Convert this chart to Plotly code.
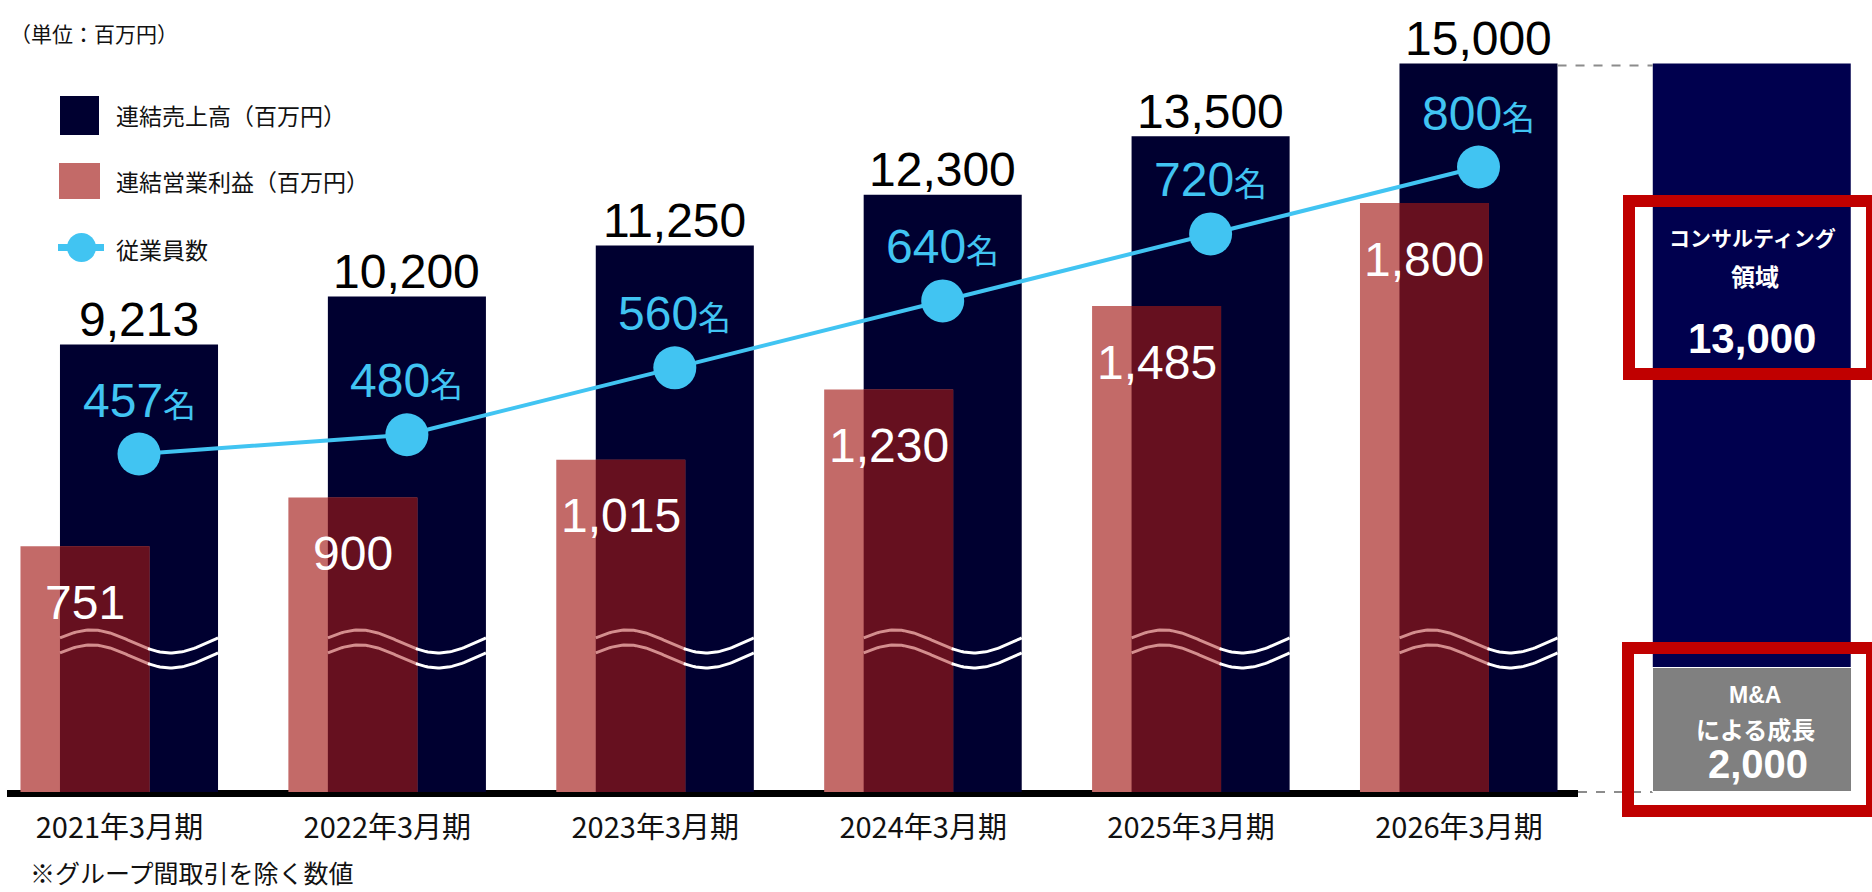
import numpy as np
import plotly.graph_objects as go

# ---------------- data ----------------
categories = ["2021年3月期", "2022年3月期", "2023年3月期", "2024年3月期", "2025年3月期", "2026年3月期"]
sales = [9213, 10200, 11250, 12300, 13500, 15000]          # 連結売上高（百万円）
op_profit = [751, 900, 1015, 1230, 1485, 1800]              # 連結営業利益（百万円）
employees = [457, 480, 560, 640, 720, 800]                  # 従業員数
breakdown_names = ["コンサルティング領域", "M&Aによる成長"]
breakdown_values = [13000, 2000]

# ---------------- style / layout constants ----------------
W, H = 1872, 892
PLOT_BOTTOM = 800            # px of plot-area bottom
NAVY = "#000030"
NAVY_R = "#00004E"
PINK = "#C36A68"
MAROON = "#66101F"
CYAN = "#41C4F2"
GRAY = "#808080"
RED = "#C00000"
NUM_FONT = "Liberation Sans Narrow, Arial Narrow, Liberation Sans, Arial, sans-serif"
JP_FONT = "Noto Sans CJK JP, sans-serif"
BOLD_FONT = "Liberation Sans, Arial, sans-serif"

X0_PX, X_STEP = 139.0, 267.9          # px of first category, px per category
Y_PX = 0.048567                        # px per unit, sales axis
Y2_PX = 0.32722                        # px per unit, profit axis
Y3_PX, Y3_REF_V, Y3_REF_PX = 0.8367, 457, 454

NAVY_W, NAVY_OFF = 0.59, -0.295
PINK_W, PINK_OFF = 0.4815, -0.4424
OVL_W = (PINK_OFF + PINK_W) - NAVY_OFF
RIGHT_X, RIGHT_W = 6.02, 0.739


def px_x(px):
    return px / W


def px_y(py):
    return (PLOT_BOTTOM - py) / PLOT_BOTTOM


idx = np.arange(len(categories))
baseline_px = 792
y_range = [-(PLOT_BOTTOM - baseline_px) / Y_PX, baseline_px / Y_PX]
y2_range = [-(PLOT_BOTTOM - baseline_px) / Y2_PX, baseline_px / Y2_PX]
y3_range = [Y3_REF_V - (PLOT_BOTTOM - Y3_REF_PX) / Y3_PX, Y3_REF_V + Y3_REF_PX / Y3_PX]
x_range = [-X0_PX / X_STEP, (W - X0_PX) / X_STEP]

fig = go.Figure()

# sales bars
fig.add_trace(go.Bar(x=idx, y=sales, width=NAVY_W, offset=NAVY_OFF, marker=dict(color=NAVY, line_width=0),
                     yaxis="y", name="連結売上高（百万円）", hoverinfo="skip"))
# right breakdown bar (total)
fig.add_trace(go.Bar(x=[RIGHT_X], y=[sum(breakdown_values)], width=RIGHT_W, offset=-RIGHT_W / 2,
                     marker=dict(color=NAVY_R, line_width=0), yaxis="y", hoverinfo="skip"))
# profit bars
fig.add_trace(go.Bar(x=idx, y=op_profit, width=PINK_W, offset=PINK_OFF, marker=dict(color=PINK, line_width=0),
                     yaxis="y2", name="連結営業利益（百万円）", hoverinfo="skip"))
# overlap of profit and sales bars
fig.add_trace(go.Bar(x=idx, y=op_profit, width=OVL_W, offset=NAVY_OFF, marker=dict(color=MAROON, line_width=0),
                     yaxis="y2", hoverinfo="skip"))
# employees line
fig.add_trace(go.Scatter(x=idx, y=employees, mode="lines+markers", yaxis="y3",
                         line=dict(color=CYAN, width=4), marker=dict(color=CYAN, size=43),
                         name="従業員数", hoverinfo="skip"))

# wavy "break" marks on sales bars (decoration)
crest_u = (baseline_px - 630) / Y_PX
amp_u = 23 / Y_PX
sep_u = 15 / Y_PX
t = np.linspace(0, 1, 80)
d = amp_u * (1 - np.cos(2 * np.pi * (t - 0.2))) / 2
split = OVL_W / NAVY_W
wx_m, wy_m, wx_n, wy_n = [], [], [], []
for i in idx:
    xs = i + NAVY_OFF + t * NAVY_W
    for off in (0, sep_u):
        ys = crest_u - off - d
        m = t <= split + 0.01
        n = t >= split - 0.01
        wx_m += list(xs[m]) + [None]
        wy_m += list(ys[m]) + [None]
        wx_n += list(xs[n]) + [None]
        wy_n += list(ys[n]) + [None]
fig.add_trace(go.Scatter(x=wx_m, y=wy_m, mode="lines", yaxis="y4", line=dict(color="#D48E8E", width=3),
                         hoverinfo="skip", connectgaps=False))
fig.add_trace(go.Scatter(x=wx_n, y=wy_n, mode="lines", yaxis="y4", line=dict(color="#FFFFFF", width=3),
                         hoverinfo="skip", connectgaps=False))

annotations = []
# sales value labels
for i, v in zip(idx, sales):
    annotations.append(dict(x=i, y=v, xref="x", yref="y", text=f"{v:,}", showarrow=False,
                            xanchor="center", yanchor="middle", yshift=25,
                            font=dict(family=NUM_FONT, size=48, color="#000000")))
# profit value labels
for i, v in zip(idx, op_profit):
    annotations.append(dict(x=i + PINK_OFF + PINK_W / 2, y=v, xref="x", yref="y2", text=f"{v:,}", showarrow=False,
                            xanchor="center", yanchor="middle", yshift=-56,
                            font=dict(family=NUM_FONT, size=48, color="#FFFFFF")))
# employee labels
for i, v in zip(idx, employees):
    annotations.append(dict(x=i, y=v, xref="x", yref="y3",
                            text=f"{v}<span style='font-size:33px'>名</span>", showarrow=False,
                            xanchor="center", yanchor="middle", yshift=54,
                            font=dict(family=NUM_FONT + ", " + JP_FONT, size=48, color=CYAN)))

# gray M&A box (bottom part of right bar)
annotations.append(dict(x=RIGHT_X, y=0, xref="x", yref="y", text=" ", showarrow=False, xanchor="center",
                        yanchor="bottom", yshift=0, width=198, height=123, bgcolor=GRAY, borderpad=0,
                        bordercolor="#FFFFFF", borderwidth=1))


def ptext(px, py, text, size, family=JP_FONT, color="#FFFFFF", bold=True, xanchor="center"):
    return dict(x=px_x(px), y=px_y(py), xref="paper", yref="paper", text=text, showarrow=False,
                xanchor=xanchor, yanchor="middle",
                font=dict(family=family, size=size, color=color, weight="bold" if bold else "normal"))


# right panel texts
cons_name = breakdown_names[0]
ma_name = breakdown_names[1]
annotations += [
    ptext(1752, 237, cons_name[:-2], 21),
    ptext(1755, 275, cons_name[-2:], 24),
    ptext(1752, 338, f"{breakdown_values[0]:,}", 42, family=BOLD_FONT),
    ptext(1755, 695, ma_name[:3], 23, family=BOLD_FONT),
    ptext(1755, 728, ma_name[3:], 24),
    ptext(1758, 764, f"{breakdown_values[1]:,}", 40, family=BOLD_FONT),
]

# unit, legend texts, footnote
annotations += [
    ptext(8, 33, "（単位：百万円）", 21, color="#111111", bold=False, xanchor="left"),
    ptext(114, 115, "連結売上高（百万円）", 23, color="#111111", bold=False, xanchor="left"),
    ptext(114, 181, "連結営業利益（百万円）", 23, color="#111111", bold=False, xanchor="left"),
    ptext(114, 249, "従業員数", 23, color="#111111", bold=False, xanchor="left"),
    ptext(28, 872, "※グループ間取引を除く数値", 25, color="#111111", bold=False, xanchor="left"),
]

shapes = [
    # baseline
    dict(type="line", xref="x", yref="y", x0=(7 - X0_PX) / X_STEP, x1=(1578 - X0_PX) / X_STEP,
         y0=-1.5 / Y_PX, y1=-1.5 / Y_PX, line=dict(color="#000000", width=7), layer="below"),
    # dashed connectors
    dict(type="line", xref="x", yref="y", x0=idx[-1] + NAVY_OFF + NAVY_W, x1=RIGHT_X - RIGHT_W / 2,
         y0=sales[-1] - 40, y1=sales[-1] - 40, line=dict(color="#8C8C8C", width=2, dash="dash"), layer="above"),
    dict(type="line", xref="x", yref="y", x0=(1578 - X0_PX) / X_STEP, x1=RIGHT_X - RIGHT_W / 2,
         y0=0, y1=0, line=dict(color="#8C8C8C", width=2, dash="dash"), layer="above"),
    # red highlight boxes
    dict(type="rect", xref="paper", yref="paper", x0=px_x(1629), x1=px_x(1872), y0=px_y(201), y1=px_y(374),
         line=dict(color=RED, width=12), fillcolor="rgba(0,0,0,0)", layer="above"),
    dict(type="rect", xref="paper", yref="paper", x0=px_x(1628), x1=px_x(1872), y0=px_y(648), y1=px_y(811),
         line=dict(color=RED, width=12), fillcolor="rgba(0,0,0,0)", layer="above"),
    # legend symbols
    dict(type="rect", xref="paper", yref="paper", x0=px_x(60), x1=px_x(99), y0=px_y(96), y1=px_y(135),
         line=dict(width=0), fillcolor=NAVY, layer="above"),
    dict(type="rect", xref="paper", yref="paper", x0=px_x(59), x1=px_x(100), y0=px_y(163), y1=px_y(199),
         line=dict(width=0), fillcolor=PINK, layer="above"),
    dict(type="line", xref="paper", yref="paper", x0=px_x(58), x1=px_x(104), y0=px_y(247.5), y1=px_y(247.5),
         line=dict(color=CYAN, width=7), layer="above"),
    dict(type="circle", xref="paper", yref="paper", x0=px_x(67), x1=px_x(96), y0=px_y(233), y1=px_y(262),
         line=dict(width=0), fillcolor=CYAN, layer="above"),
]

hidden = dict(visible=False, showgrid=False, zeroline=False, fixedrange=True)
fig.update_layout(
    width=W, height=H,
    margin=dict(l=0, r=0, t=0, b=H - PLOT_BOTTOM, pad=0, autoexpand=False),
    paper_bgcolor="#FFFFFF", plot_bgcolor="#FFFFFF",
    barmode="overlay", showlegend=False, hovermode=False,
    xaxis=dict(range=x_range, tickvals=list(idx - 0.073), ticktext=categories, showgrid=False, zeroline=False,
               showline=False, ticks="", ticklabelstandoff=8, fixedrange=True,
               tickfont=dict(family=JP_FONT, size=29, color="#111111")),
    yaxis=dict(range=y_range, **hidden),
    yaxis2=dict(range=y2_range, overlaying="y", **hidden),
    yaxis3=dict(range=y3_range, overlaying="y", **hidden),
    yaxis4=dict(range=y_range, overlaying="y", **hidden),
    annotations=annotations,
    shapes=shapes,
)

fig.write_html(
    "out.html",
    config={"displayModeBar": False, "staticPlot": True},
    post_script="document.body.style.margin='0';document.body.style.padding='0';"
                "document.body.style.overflow='hidden';",
)
